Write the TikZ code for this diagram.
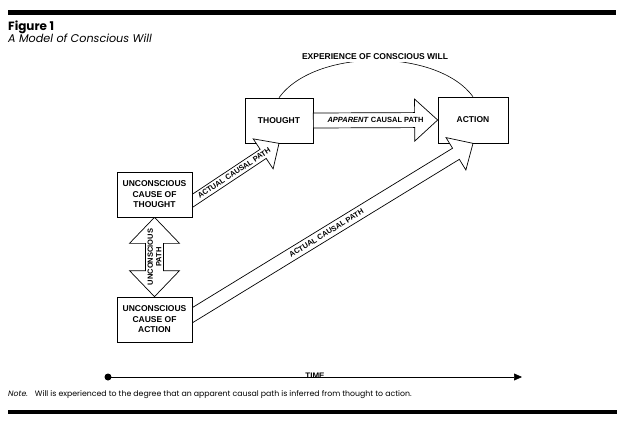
\documentclass[tikz,border=0pt]{standalone}
\usepackage{fontspec}
\setmainfont{Poppins}
\newfontfamily\labelfont{Liberation Sans}
\usetikzlibrary{calc,arrows.meta}
\pgfdeclarelayer{front}
\pgfsetlayers{main,front}

\begin{document}
\begin{tikzpicture}[x=1pt,y=-1pt,
	box/.style={draw, fill=white, line width=0.7pt, align=center, inner sep=0pt,
		font=\labelfont\bfseries\fontsize{8.5}{10.5}\selectfont},
	pathlabel/.style={font=\labelfont\bfseries\fontsize{7.5}{8.5}\selectfont, inner sep=1pt},
	blockarrow/.style n args={3}{draw, fill=white, line width=0.7pt, to path={
		($(\tikztostart)!#1!90:(\tikztotarget)$)
		-- ($(\tikztotarget)!#3!(\tikztostart)!#1!90:(\tikztotarget)$)
		-- ($(\tikztotarget)!#3!(\tikztostart)!#2!90:(\tikztotarget)$)
		-- (\tikztotarget)
		-- ($(\tikztotarget)!#3!(\tikztostart)!#2!-90:(\tikztotarget)$)
		-- ($(\tikztotarget)!#3!(\tikztostart)!#1!-90:(\tikztotarget)$)
		-- ($(\tikztostart)!#1!-90:(\tikztotarget)$) -- cycle}},
	twinarrow/.style n args={3}{draw, fill=white, line width=0.7pt, to path={
		($(\tikztostart)!#3!(\tikztotarget)!#1!90:(\tikztotarget)$)
		-- ($(\tikztotarget)!#3!(\tikztostart)!#1!90:(\tikztotarget)$)
		-- ($(\tikztotarget)!#3!(\tikztostart)!#2!90:(\tikztotarget)$)
		-- (\tikztotarget)
		-- ($(\tikztotarget)!#3!(\tikztostart)!#2!-90:(\tikztotarget)$)
		-- ($(\tikztotarget)!#3!(\tikztostart)!#1!-90:(\tikztotarget)$)
		-- ($(\tikztostart)!#3!(\tikztotarget)!#1!-90:(\tikztotarget)$)
		-- ($(\tikztostart)!#3!(\tikztotarget)!#2!-90:(\tikztotarget)$)
		-- (\tikztostart)
		-- ($(\tikztostart)!#3!(\tikztotarget)!#2!90:(\tikztotarget)$) -- cycle}}]
	\useasboundingbox (0,0) rectangle (624,423);

	% rules and heading
	\fill (8,10) rectangle (616,15);
	\fill (8,410) rectangle (617,414);
	\node[anchor=base west, inner sep=0pt, font=\bfseries\fontsize{12}{14}\selectfont] (fig) at (8,30) {Figure 1};
	\node[anchor=base west, inner sep=0pt, font=\itshape\fontsize{11.2}{13}\selectfont] (title) at (8,42.5) {A Model of Conscious Will};

	% boxes
	\node[box, minimum width=68pt, minimum height=45pt] (thought) at (279,120.5) {THOUGHT};
	\node[box, minimum width=70pt, minimum height=46pt] (action) at (473,120) {ACTION};
	\begin{pgfonlayer}{front}
	\node[box, minimum width=75pt, minimum height=45pt] (uct) at (154.5,194.5) {UNCONSCIOUS\\CAUSE OF\\THOUGHT};
	\node[box, minimum width=75pt, minimum height=45pt] (uca) at (154.5,319.5) {UNCONSCIOUS\\CAUSE OF\\ACTION};
	\end{pgfonlayer}

	% experience of will
	\draw[line width=0.6pt] (thought.north) .. controls (315,48) and (437,48) .. (action.north);
	\node[fill=white, inner sep=2pt, font=\labelfont\bfseries\fontsize{8.5}{10}\selectfont] (will) at (375,57) {EXPERIENCE OF CONSCIOUS WILL};

	% paths
	\coordinate (tailT) at ($(uct.east)+(-7,11)$);
	\coordinate (tailA) at ($(uca.east)+(-7,0)$);
	\draw[blockarrow={7.5pt}{21pt}{23pt}] (thought.east) to (action.west);
	\draw[blockarrow={5.5pt}{18pt}{19pt}] (tailT) to (thought.south);
	\draw[blockarrow={6.5pt}{19pt}{20pt}] (tailA) to (action.south);
	\draw[twinarrow={9pt}{25pt}{26pt}] (uct.south) to (uca.north);

	\path (thought.east) -- (action.west) node[midway, pathlabel] (apparent) {\textit{APPARENT} CAUSAL PATH};
	\path (tailT) -- (thought.south) node[pos=0.52, sloped, pathlabel] (actualT) {ACTUAL CAUSAL PATH};
	\path (tailA) -- (action.south) node[pos=0.49, sloped, pathlabel] (actualA) {ACTUAL CAUSAL PATH};
	\path (uct.south) -- (uca.north) node[midway, rotate=90, pathlabel, align=center] (uncon) {UNCONSCIOUS\\PATH};

	% time
	\coordinate (t0) at (108,377);
	\coordinate (t1) at (522,377);
	\draw[line width=0.6pt, -{Triangle[length=8pt,width=7pt]}] (t0) -- node[midway, anchor=base, yshift=-1.5pt, inner sep=0pt, font=\labelfont\bfseries\fontsize{8}{9}\selectfont] (time) {TIME} (t1);
	\fill (t0) circle (3.5pt);

	\node[anchor=west, inner sep=0pt, font=\fontsize{7.8}{9}\selectfont] (note) at (8,395) {\textit{Note.}\hspace{7pt}Will is experienced to the degree that an apparent causal path is inferred from thought to action.};
\end{tikzpicture}
\end{document}
